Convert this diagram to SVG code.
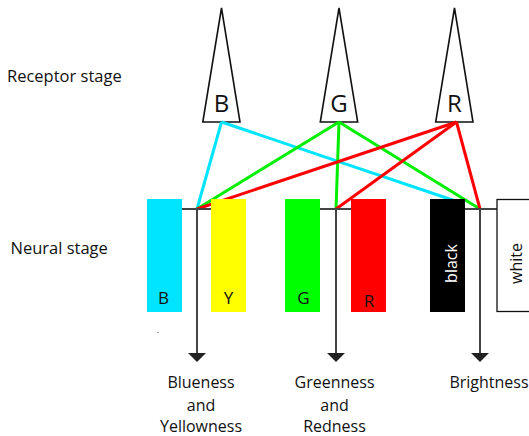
<svg xmlns="http://www.w3.org/2000/svg" width="529" height="436" viewBox="0 0 529 436">
<defs>
<style>
text{font-family:"Open Sans","Liberation Sans",sans-serif;fill:#111}
.cone{fill:#fff;stroke:#111;stroke-width:1.6;stroke-linejoin:miter}
.cl{font-size:24px;text-anchor:middle}
.stage{font-size:16.5px}
.out{font-size:16px;text-anchor:middle}
.bl{font-size:17px;text-anchor:middle}
.vl{font-size:16px;text-anchor:middle}
.w{stroke-width:3;fill:none}
.gray{stroke:#444;stroke-width:2;fill:none}
</style>
<marker id="ah" viewBox="0 0 9 18" refX="0" refY="9" markerWidth="9" markerHeight="18" markerUnits="userSpaceOnUse" orient="auto">
<path d="M0,0 L9,9 L0,18 Z" fill="#222"/>
</marker>
</defs>
<rect width="529" height="436" fill="#fff"/>
<text class="stage" x="7" y="82">Receptor stage</text>
<text class="stage" x="10.5" y="254">Neural stage</text>
<g id="cone-B"><path class="cone" d="M221.5,8 L240,122 L202.8,122 Z"/><text class="cl" x="221.5" y="112">B</text></g>
<g id="cone-G"><path class="cone" d="M339,8 L357.7,122 L320.3,122 Z"/><text class="cl" x="339" y="112">G</text></g>
<g id="cone-R"><path class="cone" d="M454.5,8 L473,122 L435.7,122 Z"/><text class="cl" x="454.5" y="112">R</text></g>
<g id="connectors">
<line class="w" stroke="#00e5ff" x1="221.5" y1="122" x2="197" y2="209"/>
<line class="w" stroke="#00e5ff" x1="221.5" y1="122" x2="454" y2="200.5"/>
<line class="w" stroke="#00ee00" x1="339" y1="122" x2="197" y2="209"/>
<line class="w" stroke="#00ee00" x1="339" y1="122" x2="336" y2="209"/>
<line class="w" stroke="#00ee00" x1="339" y1="122" x2="480" y2="209"/>
<line class="w" stroke="#ff0000" x1="456.5" y1="122" x2="197" y2="209"/>
<line class="w" stroke="#ff0000" x1="456.5" y1="122" x2="336" y2="209"/>
<line class="w" stroke="#ff0000" x1="456.5" y1="122" x2="480" y2="209"/>
<line class="gray" x1="182" y1="209" x2="211" y2="209"/>
<line class="gray" x1="320" y1="209" x2="351" y2="209"/>
<line class="gray" x1="465" y1="209" x2="497" y2="209"/>
<line class="gray" x1="197" y1="209" x2="197" y2="353" marker-end="url(#ah)"/>
<line class="gray" x1="336" y1="209" x2="336" y2="353" marker-end="url(#ah)"/>
<line class="gray" x1="480" y1="209" x2="480" y2="353" marker-end="url(#ah)"/>
</g>
<g id="box-B"><rect x="147" y="199" width="35" height="113" fill="#00e5ff"/><text class="bl" x="163.5" y="304">B</text></g>
<g id="box-Y"><rect x="211" y="199" width="35" height="113" fill="#ffff00"/><text class="bl" x="228.5" y="304">Y</text></g>
<g id="box-G"><rect x="285" y="199" width="35" height="113" fill="#00ff00"/><text class="bl" x="303.5" y="304">G</text></g>
<g id="box-R"><rect x="351" y="199" width="35" height="113" fill="#ff0000"/><text class="bl" x="369" y="306.5">R</text></g>
<g id="box-black"><rect x="430" y="199" width="35" height="113" fill="#000"/><text class="vl" transform="translate(456.5,263.5) rotate(-90)" style="fill:#fff">black</text></g>
<g id="box-white"><rect x="497" y="199.5" width="40" height="112" fill="#fff" stroke="#111" stroke-width="1.3"/><text class="vl" transform="translate(521.5,263.5) rotate(-90)">white</text></g>
<circle cx="158" cy="332.5" r="0.7" fill="#777"/>
<g id="out-BY"><text class="out" x="201" y="388">Blueness</text><text class="out" x="201" y="411">and</text><text class="out" x="201" y="432">Yellowness</text></g>
<g id="out-GR"><text class="out" x="334.5" y="388">Greenness</text><text class="out" x="334.5" y="411">and</text><text class="out" x="334.5" y="432">Redness</text></g>
<g id="out-Br"><text class="out" x="489" y="388">Brightness</text></g>
</svg>
